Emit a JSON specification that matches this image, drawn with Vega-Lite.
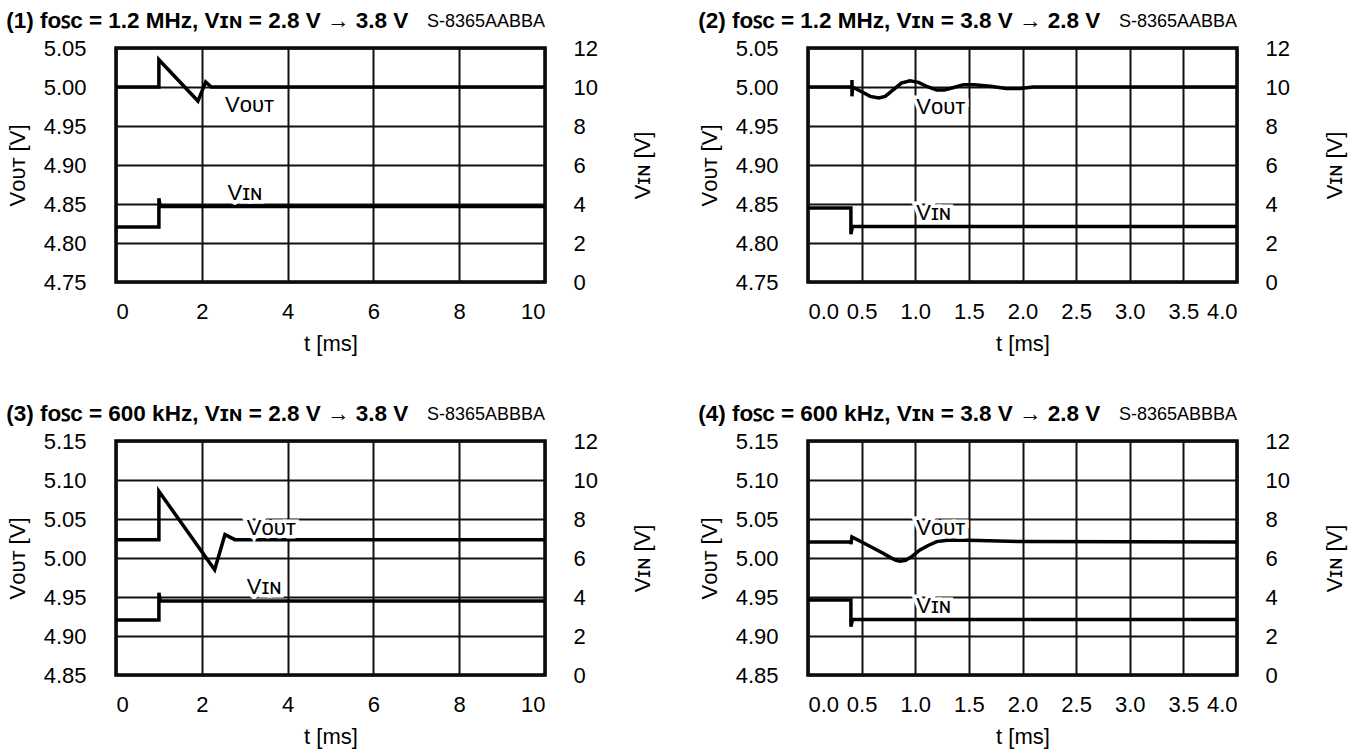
{
  "$schema": "https://vega.github.io/schema/vega-lite/v6.json",
  "background": "white",
  "padding": {"left": 4, "top": 8, "right": 5, "bottom": 5},
  "config": {
    "font": "Liberation Sans",
    "view": {"stroke": "black", "strokeWidth": 3.5},
    "axis": {"labelFontSize": 22, "titleFontSize": 22, "labelColor": "black", "titleColor": "black", "titleFontWeight": "normal", "ticks": false, "domain": false, "gridColor": "#111111", "gridWidth": 2, "gridOpacity": 1, "labelOverlap": false},
    "title": {"fontSize": 22.5, "fontWeight": "bold", "anchor": "start", "color": "black", "frame": "bounds", "offset": -20}
  },
  "datasets": {
    "p1": [
      {"t": 0, "v": 5.0, "s": "VOUT"}, {"t": 1.0, "v": 5.0, "s": "VOUT"}, {"t": 1.0, "v": 5.035, "s": "VOUT"}, {"t": 1.91, "v": 4.982, "s": "VOUT"}, {"t": 2.09, "v": 5.0065, "s": "VOUT"}, {"t": 2.22, "v": 5.0, "s": "VOUT"}, {"t": 10, "v": 5.0, "s": "VOUT"},
      {"t": 0, "v": 2.82, "s": "VIN"}, {"t": 1.0, "v": 2.82, "s": "VIN"}, {"t": 1.0, "v": 4.3, "s": "VIN"}, {"t": 1.03, "v": 3.87, "s": "VIN"}, {"t": 10, "v": 3.87, "s": "VIN"}
    ],
    "p2": [
      {"t": 0, "v": 5.0, "s": "VOUT"}, {"t": 0.41, "v": 5.0, "s": "VOUT"}, {"t": 0.41, "v": 5.009, "s": "VOUT"}, {"t": 0.41, "v": 4.988, "s": "VOUT"}, {"t": 0.415, "v": 5.0, "s": "VOUT"},
      {"t": 0.5, "v": 4.994, "s": "VOUT"}, {"t": 0.58, "v": 4.988, "s": "VOUT"}, {"t": 0.66, "v": 4.986, "s": "VOUT"}, {"t": 0.72, "v": 4.988, "s": "VOUT"}, {"t": 0.8, "v": 4.997, "s": "VOUT"}, {"t": 0.87, "v": 5.005, "s": "VOUT"}, {"t": 0.95, "v": 5.008, "s": "VOUT"}, {"t": 1.03, "v": 5.006, "s": "VOUT"}, {"t": 1.12, "v": 5.0, "s": "VOUT"}, {"t": 1.2, "v": 4.996, "s": "VOUT"}, {"t": 1.27, "v": 4.996, "s": "VOUT"}, {"t": 1.35, "v": 4.999, "s": "VOUT"}, {"t": 1.45, "v": 5.003, "s": "VOUT"}, {"t": 1.55, "v": 5.003, "s": "VOUT"}, {"t": 1.7, "v": 5.001, "s": "VOUT"}, {"t": 1.85, "v": 4.998, "s": "VOUT"}, {"t": 1.98, "v": 4.998, "s": "VOUT"}, {"t": 2.1, "v": 5.0, "s": "VOUT"}, {"t": 4, "v": 5.0, "s": "VOUT"},
      {"t": 0, "v": 3.8, "s": "VIN"}, {"t": 0.4, "v": 3.8, "s": "VIN"}, {"t": 0.4, "v": 2.45, "s": "VIN"}, {"t": 0.415, "v": 2.85, "s": "VIN"}, {"t": 4, "v": 2.85, "s": "VIN"}
    ],
    "p3": [
      {"t": 0, "v": 5.0235, "s": "VOUT"}, {"t": 1.0, "v": 5.0235, "s": "VOUT"}, {"t": 1.0, "v": 5.0855, "s": "VOUT"}, {"t": 2.3, "v": 4.985, "s": "VOUT"}, {"t": 2.54, "v": 5.03, "s": "VOUT"}, {"t": 2.77, "v": 5.0235, "s": "VOUT"}, {"t": 10, "v": 5.0235, "s": "VOUT"},
      {"t": 0, "v": 2.82, "s": "VIN"}, {"t": 1.0, "v": 2.82, "s": "VIN"}, {"t": 1.0, "v": 4.22, "s": "VIN"}, {"t": 1.03, "v": 3.79, "s": "VIN"}, {"t": 10, "v": 3.79, "s": "VIN"}
    ],
    "p4": [
      {"t": 0, "v": 5.0205, "s": "VOUT"}, {"t": 0.4, "v": 5.0205, "s": "VOUT"}, {"t": 0.4, "v": 5.0175, "s": "VOUT"}, {"t": 0.41, "v": 5.027, "s": "VOUT"}, {"t": 0.55, "v": 5.017, "s": "VOUT"}, {"t": 0.7, "v": 5.006, "s": "VOUT"}, {"t": 0.77, "v": 5.0005, "s": "VOUT"}, {"t": 0.82, "v": 4.997, "s": "VOUT"}, {"t": 0.86, "v": 4.996, "s": "VOUT"}, {"t": 0.91, "v": 4.997, "s": "VOUT"}, {"t": 0.97, "v": 5.002, "s": "VOUT"}, {"t": 1.04, "v": 5.01, "s": "VOUT"}, {"t": 1.12, "v": 5.016, "s": "VOUT"}, {"t": 1.2, "v": 5.021, "s": "VOUT"}, {"t": 1.3, "v": 5.0228, "s": "VOUT"}, {"t": 1.5, "v": 5.0226, "s": "VOUT"}, {"t": 2.0, "v": 5.021, "s": "VOUT"}, {"t": 4, "v": 5.0205, "s": "VOUT"},
      {"t": 0, "v": 3.85, "s": "VIN"}, {"t": 0.4, "v": 3.85, "s": "VIN"}, {"t": 0.4, "v": 2.48, "s": "VIN"}, {"t": 0.415, "v": 2.85, "s": "VIN"}, {"t": 4, "v": 2.85, "s": "VIN"}
    ],
    "lab1": [{"t": 2.54, "v": 4.977, "label": "Vᴏᴜᴛ"}, {"t": 2.6, "v": 4.864, "label": "Vɪɴ"}],
    "lab2": [{"t": 1.01, "v": 4.974, "label": "Vᴏᴜᴛ"}, {"t": 1.01, "v": 4.838, "label": "Vɪɴ"}],
    "lab3": [{"t": 3.05, "v": 5.0385, "label": "Vᴏᴜᴛ"}, {"t": 3.05, "v": 4.963, "label": "Vɪɴ"}],
    "lab4": [{"t": 1.01, "v": 5.0385, "label": "Vᴏᴜᴛ"}, {"t": 1.01, "v": 4.938, "label": "Vɪɴ"}]
  },
  "columns": 2,
  "spacing": {"row": 45, "column": 40},
  "concat": [
    {
      "title": {"text": "(1) fᴏꜱᴄ = 1.2 MHz, Vɪɴ = 2.8 V → 3.8 V"},
      "width": 429, "height": 234,
      "data": {"name": "p1"},
      "layer": [
        {"transform": [{"filter": "datum.s === 'VOUT'"}],
         "mark": {"type": "line", "color": "black", "strokeWidth": 3.5, "strokeJoin": "miter"},
         "encoding": {
           "x": {"field": "t", "type": "quantitative", "title": "t [ms]", "scale": {"domain": [0, 10], "nice": false}, "axis": {"values": [0, 2, 4, 6, 8, 10], "format": "d", "labelPadding": 19, "titlePadding": 11, "labelOverlap": false}},
           "y": {"field": "v", "type": "quantitative", "title": "Vᴏᴜᴛ [V]", "scale": {"domain": [4.75, 5.05], "nice": false, "zero": false}, "axis": {"values": [4.75, 4.8, 4.85, 4.9, 4.95, 5.0, 5.05], "format": ".2f", "labelPadding": 30, "titlePadding": 14, "labelOverlap": false}}
         }},
        {"data": {"name": "lab1"}, "mark": {"type": "text", "align": "left", "baseline": "middle", "fontSize": 22, "stroke": "white", "strokeWidth": 7, "fill": "white"},
         "encoding": {"x": {"field": "t", "type": "quantitative"}, "y": {"field": "v", "type": "quantitative", "scale": {"domain": [4.75, 5.05], "nice": false, "zero": false}, "axis": null}, "text": {"field": "label"}}},
        {"data": {"name": "lab1"}, "mark": {"type": "text", "align": "left", "baseline": "middle", "fontSize": 22, "fill": "black"},
         "encoding": {"x": {"field": "t", "type": "quantitative"}, "y": {"field": "v", "type": "quantitative", "scale": {"domain": [4.75, 5.05], "nice": false, "zero": false}, "axis": null}, "text": {"field": "label"}}},
        {"data": {"values": [{"model": "S-8365AABBA"}]}, "mark": {"type": "text", "align": "right", "baseline": "alphabetic", "fontSize": 18, "fill": "black"},
         "encoding": {"x": {"datum": 10}, "y": {"datum": 5.077, "scale": {"domain": [4.75, 5.05], "nice": false, "zero": false}, "axis": null}, "text": {"field": "model"}}},
        {"transform": [{"filter": "datum.s === 'VIN'"}],
         "mark": {"type": "line", "color": "black", "strokeWidth": 3.5, "strokeJoin": "miter"},
         "encoding": {
           "x": {"field": "t", "type": "quantitative"},
           "y": {"field": "v", "type": "quantitative", "title": "Vɪɴ [V]", "scale": {"domain": [0, 12], "nice": false}, "axis": {"orient": "right", "grid": false, "values": [0, 2, 4, 6, 8, 10, 12], "labelPadding": 28, "titlePadding": 57, "titleAngle": 270, "labelOverlap": false}}
         }}
      ],
      "resolve": {"scale": {"y": "independent"}}
    },
    {
      "title": {"text": "(2) fᴏꜱᴄ = 1.2 MHz, Vɪɴ = 3.8 V → 2.8 V"},
      "width": 429, "height": 234,
      "data": {"name": "p2"},
      "layer": [
        {"transform": [{"filter": "datum.s === 'VOUT'"}],
         "mark": {"type": "line", "color": "black", "strokeWidth": 3.5, "strokeJoin": "miter"},
         "encoding": {
           "x": {"field": "t", "type": "quantitative", "title": "t [ms]", "scale": {"domain": [0, 4], "nice": false}, "axis": {"values": [0, 0.5, 1, 1.5, 2, 2.5, 3, 3.5, 4], "format": ".1f", "labelPadding": 19, "titlePadding": 11, "labelOverlap": false}},
           "y": {"field": "v", "type": "quantitative", "title": "Vᴏᴜᴛ [V]", "scale": {"domain": [4.75, 5.05], "nice": false, "zero": false}, "axis": {"values": [4.75, 4.8, 4.85, 4.9, 4.95, 5.0, 5.05], "format": ".2f", "labelPadding": 30, "titlePadding": 14, "labelOverlap": false}}
         }},
        {"data": {"name": "lab2"}, "mark": {"type": "text", "align": "left", "baseline": "middle", "fontSize": 22, "stroke": "white", "strokeWidth": 7, "fill": "white"},
         "encoding": {"x": {"field": "t", "type": "quantitative"}, "y": {"field": "v", "type": "quantitative", "scale": {"domain": [4.75, 5.05], "nice": false, "zero": false}, "axis": null}, "text": {"field": "label"}}},
        {"data": {"name": "lab2"}, "mark": {"type": "text", "align": "left", "baseline": "middle", "fontSize": 22, "fill": "black"},
         "encoding": {"x": {"field": "t", "type": "quantitative"}, "y": {"field": "v", "type": "quantitative", "scale": {"domain": [4.75, 5.05], "nice": false, "zero": false}, "axis": null}, "text": {"field": "label"}}},
        {"data": {"values": [{"model": "S-8365AABBA"}]}, "mark": {"type": "text", "align": "right", "baseline": "alphabetic", "fontSize": 18, "fill": "black"},
         "encoding": {"x": {"datum": 4}, "y": {"datum": 5.077, "scale": {"domain": [4.75, 5.05], "nice": false, "zero": false}, "axis": null}, "text": {"field": "model"}}},
        {"transform": [{"filter": "datum.s === 'VIN'"}],
         "mark": {"type": "line", "color": "black", "strokeWidth": 3.5, "strokeJoin": "miter"},
         "encoding": {
           "x": {"field": "t", "type": "quantitative"},
           "y": {"field": "v", "type": "quantitative", "title": "Vɪɴ [V]", "scale": {"domain": [0, 12], "nice": false}, "axis": {"orient": "right", "grid": false, "values": [0, 2, 4, 6, 8, 10, 12], "labelPadding": 28, "titlePadding": 57, "titleAngle": 270, "labelOverlap": false}}
         }}
      ],
      "resolve": {"scale": {"y": "independent"}}
    },
    {
      "title": {"text": "(3) fᴏꜱᴄ = 600 kHz, Vɪɴ = 2.8 V → 3.8 V"},
      "width": 429, "height": 234,
      "data": {"name": "p3"},
      "layer": [
        {"transform": [{"filter": "datum.s === 'VOUT'"}],
         "mark": {"type": "line", "color": "black", "strokeWidth": 3.5, "strokeJoin": "miter"},
         "encoding": {
           "x": {"field": "t", "type": "quantitative", "title": "t [ms]", "scale": {"domain": [0, 10], "nice": false}, "axis": {"values": [0, 2, 4, 6, 8, 10], "format": "d", "labelPadding": 19, "titlePadding": 11, "labelOverlap": false}},
           "y": {"field": "v", "type": "quantitative", "title": "Vᴏᴜᴛ [V]", "scale": {"domain": [4.85, 5.15], "nice": false, "zero": false}, "axis": {"values": [4.85, 4.9, 4.95, 5.0, 5.05, 5.1, 5.15], "format": ".2f", "labelPadding": 30, "titlePadding": 14, "labelOverlap": false}}
         }},
        {"data": {"name": "lab3"}, "mark": {"type": "text", "align": "left", "baseline": "middle", "fontSize": 22, "stroke": "white", "strokeWidth": 7, "fill": "white"},
         "encoding": {"x": {"field": "t", "type": "quantitative"}, "y": {"field": "v", "type": "quantitative", "scale": {"domain": [4.85, 5.15], "nice": false, "zero": false}, "axis": null}, "text": {"field": "label"}}},
        {"data": {"name": "lab3"}, "mark": {"type": "text", "align": "left", "baseline": "middle", "fontSize": 22, "fill": "black"},
         "encoding": {"x": {"field": "t", "type": "quantitative"}, "y": {"field": "v", "type": "quantitative", "scale": {"domain": [4.85, 5.15], "nice": false, "zero": false}, "axis": null}, "text": {"field": "label"}}},
        {"data": {"values": [{"model": "S-8365ABBBA"}]}, "mark": {"type": "text", "align": "right", "baseline": "alphabetic", "fontSize": 18, "fill": "black"},
         "encoding": {"x": {"datum": 10}, "y": {"datum": 5.177, "scale": {"domain": [4.85, 5.15], "nice": false, "zero": false}, "axis": null}, "text": {"field": "model"}}},
        {"transform": [{"filter": "datum.s === 'VIN'"}],
         "mark": {"type": "line", "color": "black", "strokeWidth": 3.5, "strokeJoin": "miter"},
         "encoding": {
           "x": {"field": "t", "type": "quantitative"},
           "y": {"field": "v", "type": "quantitative", "title": "Vɪɴ [V]", "scale": {"domain": [0, 12], "nice": false}, "axis": {"orient": "right", "grid": false, "values": [0, 2, 4, 6, 8, 10, 12], "labelPadding": 28, "titlePadding": 57, "titleAngle": 270, "labelOverlap": false}}
         }}
      ],
      "resolve": {"scale": {"y": "independent"}}
    },
    {
      "title": {"text": "(4) fᴏꜱᴄ = 600 kHz, Vɪɴ = 3.8 V → 2.8 V"},
      "width": 429, "height": 234,
      "data": {"name": "p4"},
      "layer": [
        {"transform": [{"filter": "datum.s === 'VOUT'"}],
         "mark": {"type": "line", "color": "black", "strokeWidth": 3.5, "strokeJoin": "miter"},
         "encoding": {
           "x": {"field": "t", "type": "quantitative", "title": "t [ms]", "scale": {"domain": [0, 4], "nice": false}, "axis": {"values": [0, 0.5, 1, 1.5, 2, 2.5, 3, 3.5, 4], "format": ".1f", "labelPadding": 19, "titlePadding": 11, "labelOverlap": false}},
           "y": {"field": "v", "type": "quantitative", "title": "Vᴏᴜᴛ [V]", "scale": {"domain": [4.85, 5.15], "nice": false, "zero": false}, "axis": {"values": [4.85, 4.9, 4.95, 5.0, 5.05, 5.1, 5.15], "format": ".2f", "labelPadding": 30, "titlePadding": 14, "labelOverlap": false}}
         }},
        {"data": {"name": "lab4"}, "mark": {"type": "text", "align": "left", "baseline": "middle", "fontSize": 22, "stroke": "white", "strokeWidth": 7, "fill": "white"},
         "encoding": {"x": {"field": "t", "type": "quantitative"}, "y": {"field": "v", "type": "quantitative", "scale": {"domain": [4.85, 5.15], "nice": false, "zero": false}, "axis": null}, "text": {"field": "label"}}},
        {"data": {"name": "lab4"}, "mark": {"type": "text", "align": "left", "baseline": "middle", "fontSize": 22, "fill": "black"},
         "encoding": {"x": {"field": "t", "type": "quantitative"}, "y": {"field": "v", "type": "quantitative", "scale": {"domain": [4.85, 5.15], "nice": false, "zero": false}, "axis": null}, "text": {"field": "label"}}},
        {"data": {"values": [{"model": "S-8365ABBBA"}]}, "mark": {"type": "text", "align": "right", "baseline": "alphabetic", "fontSize": 18, "fill": "black"},
         "encoding": {"x": {"datum": 4}, "y": {"datum": 5.177, "scale": {"domain": [4.85, 5.15], "nice": false, "zero": false}, "axis": null}, "text": {"field": "model"}}},
        {"transform": [{"filter": "datum.s === 'VIN'"}],
         "mark": {"type": "line", "color": "black", "strokeWidth": 3.5, "strokeJoin": "miter"},
         "encoding": {
           "x": {"field": "t", "type": "quantitative"},
           "y": {"field": "v", "type": "quantitative", "title": "Vɪɴ [V]", "scale": {"domain": [0, 12], "nice": false}, "axis": {"orient": "right", "grid": false, "values": [0, 2, 4, 6, 8, 10, 12], "labelPadding": 28, "titlePadding": 57, "titleAngle": 270, "labelOverlap": false}}
         }}
      ],
      "resolve": {"scale": {"y": "independent"}}
    }
  ]
}
